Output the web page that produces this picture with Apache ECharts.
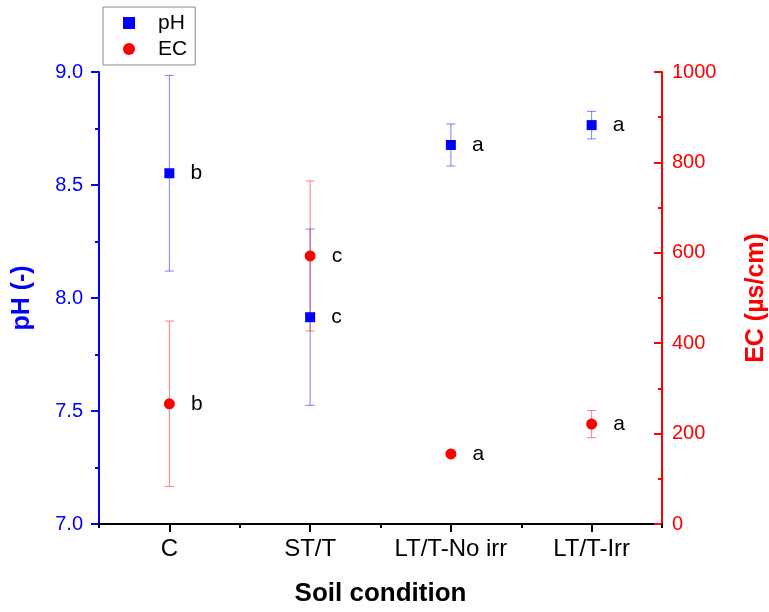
<!DOCTYPE html>
<html>
<head>
<meta charset="utf-8">
<script src="https://cdn.jsdelivr.net/npm/echarts@6/dist/echarts.min.js"></script>
<style>html,body{margin:0;padding:0;background:#fff}#c{width:769px;height:612px}</style>
</head>
<body>
<div id="c"></div>
<script>
// ---- data ----
var categories = ['C', 'ST/T', 'LT/T-No irr', 'LT/T-Irr'];
var phMean = [8.552, 7.915, 8.677, 8.765];
var phErr = [0.433, 0.390, 0.093, 0.061];
var phLetters = ['b', 'c', 'a', 'a'];
var ecMean = [266, 593, 155, 221];
var ecErr = [183, 166, 4, 30];
var ecLetters = ['b', 'c', 'a', 'a'];
var phTicks = [7.0, 7.5, 8.0, 8.5, 9.0];
var ecTicks = [0, 200, 400, 600, 800, 1000];

var FONT = "'Liberation Sans', Arial, sans-serif";
var BLUE = '#0000ff', RED = '#ff0000';

function errData(mean, err) {
  return mean.map(function (m, i) { return [i, m - err[i], m + err[i]]; });
}
function errRender(color) {
  return function (params, api) {
    var x = api.value(0);
    var lo = api.coord([x, api.value(1)]);
    var hi = api.coord([x, api.value(2)]);
    var w = 4.5;
    var st = { stroke: color, lineWidth: 1 };
    return {
      type: 'group',
      children: [
        { type: 'line', shape: { x1: lo[0], y1: lo[1], x2: hi[0], y2: hi[1] }, style: st },
        { type: 'line', shape: { x1: lo[0] - w, y1: lo[1], x2: lo[0] + w, y2: lo[1] }, style: st },
        { type: 'line', shape: { x1: hi[0] - w, y1: hi[1], x2: hi[0] + w, y2: hi[1] }, style: st }
      ]
    };
  };
}

var chart = echarts.init(document.getElementById('c'), null, { renderer: 'canvas' });
chart.setOption({
  backgroundColor: '#fff',
  animation: false,
  textStyle: { fontFamily: FONT },
  grid: { left: 99, right: 107, top: 72, bottom: 88, containLabel: false, outerBoundsMode: 'none' },
  legend: {
    left: 103, top: 7,
    orient: 'vertical',
    data: ['pH', 'EC'],
    itemWidth: 12, itemHeight: 12, itemGap: 2,
    padding: [4, 8, 4, 20],
    borderColor: '#888', borderWidth: 1,
    textStyle: { fontFamily: FONT, fontSize: 21, color: '#000', lineHeight: 24, padding: [0, 0, 0, 18] }
  },
  xAxis: [
    {
      type: 'category', data: categories, boundaryGap: true, position: 'bottom',
      name: 'Soil condition', nameLocation: 'middle', nameGap: 57,
      nameTextStyle: { fontFamily: FONT, fontSize: 26, fontWeight: 'bold', color: '#000' },
      axisLine: { show: true, onZero: false, lineStyle: { color: '#000', width: 2 } },
      axisTick: { show: true, alignWithLabel: true, length: 8, lineStyle: { color: '#000', width: 2 } },
      axisLabel: { fontFamily: FONT, fontSize: 24, color: '#000', margin: 13, interval: 0, hideOverlap: false },
      splitLine: { show: false }
    },
    {
      type: 'value', min: 0, max: 4, interval: 1, position: 'bottom',
      axisLine: { show: false, onZero: false },
      axisTick: { show: true, length: 4, lineStyle: { color: '#000', width: 2 } },
      axisLabel: { show: false },
      splitLine: { show: false }
    }
  ],
  yAxis: [
    {
      type: 'value', min: 7, max: 9, interval: 0.5, position: 'left',
      name: 'pH (-)', nameLocation: 'middle', nameGap: 64, nameRotate: 90,
      nameTextStyle: { fontFamily: FONT, fontSize: 25, fontWeight: 'bold', color: BLUE },
      axisLine: { show: true, onZero: false, lineStyle: { color: BLUE, width: 2 } },
      axisTick: { show: true, inside: false, length: 8, lineStyle: { color: BLUE, width: 2 } },
      minorTick: { show: true, splitNumber: 2, length: 4, lineStyle: { color: BLUE, width: 2 } },
      axisLabel: {
        fontFamily: FONT, fontSize: 20, color: BLUE, margin: 16,
        formatter: function (v) { return phTicks.indexOf(v) >= 0 ? v.toFixed(1) : ''; }
      },
      splitLine: { show: false }
    },
    {
      type: 'value', min: 0, max: 1000, interval: 200, position: 'right',
      name: 'EC (µs/cm)', nameLocation: 'middle', nameGap: 82, nameRotate: 90,
      nameTextStyle: { fontFamily: FONT, fontSize: 25, fontWeight: 'bold', color: RED },
      axisLine: { show: true, onZero: false, lineStyle: { color: RED, width: 2 } },
      axisTick: { show: true, inside: true, length: 8, lineStyle: { color: RED, width: 2 } },
      minorTick: { show: true, splitNumber: 2, length: 4, lineStyle: { color: RED, width: 2 } },
      axisLabel: {
        fontFamily: FONT, fontSize: 20, color: RED, margin: 10,
        formatter: function (v) { return ecTicks.indexOf(v) >= 0 ? String(v) : ''; }
      },
      splitLine: { show: false }
    }
  ],
  series: [
    {
      type: 'custom', name: 'pHerr', xAxisIndex: 0, yAxisIndex: 0,
      renderItem: errRender('rgba(0,0,255,0.5)'),
      data: errData(phMean, phErr), encode: { x: 0, y: [1, 2] }, z: 1, silent: true
    },
    {
      type: 'custom', name: 'ECerr', xAxisIndex: 0, yAxisIndex: 1,
      renderItem: errRender('rgba(255,0,0,0.5)'),
      data: errData(ecMean, ecErr), encode: { x: 0, y: [1, 2] }, z: 1, silent: true
    },
    {
      type: 'scatter', name: 'pH', xAxisIndex: 0, yAxisIndex: 0,
      symbol: 'rect', symbolSize: 10, itemStyle: { color: BLUE, opacity: 1 }, z: 3,
      data: phMean.map(function (v, i) { return [i, v]; }),
      label: {
        show: true, position: 'right', distance: 16, fontFamily: FONT, fontSize: 21, color: '#000',
        formatter: function (p) { return phLetters[p.dataIndex]; }
      }
    },
    {
      type: 'scatter', name: 'EC', xAxisIndex: 0, yAxisIndex: 1,
      symbol: 'circle', symbolSize: 11, itemStyle: { color: RED, opacity: 1 }, z: 3,
      data: ecMean.map(function (v, i) { return [i, v]; }),
      label: {
        show: true, position: 'right', distance: 16, fontFamily: FONT, fontSize: 21, color: '#000',
        formatter: function (p) { return ecLetters[p.dataIndex]; }
      }
    }
  ]
});
</script>
</body>
</html>
